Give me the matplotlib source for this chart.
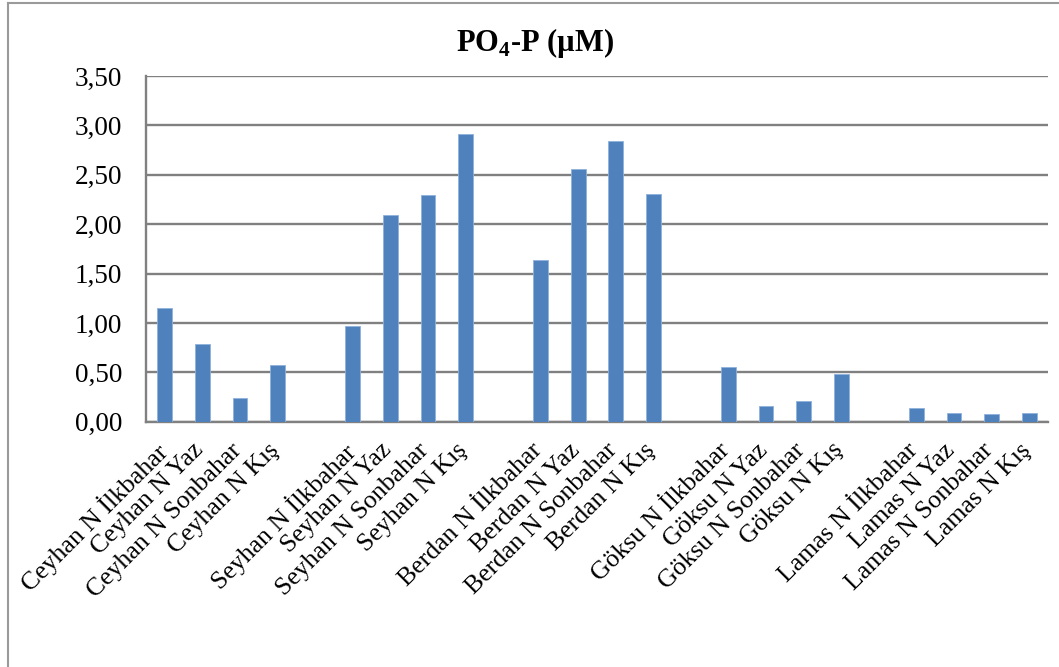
import matplotlib
matplotlib.use("Agg")
import matplotlib.pyplot as plt
import matplotlib.transforms as mtransforms
from matplotlib.lines import Line2D
from matplotlib.ticker import FuncFormatter, MultipleLocator

plt.rcParams['font.family'] = ['Liberation Serif', 'DejaVu Serif']
plt.rcParams['mathtext.fontset'] = 'custom'
plt.rcParams['mathtext.rm'] = 'Liberation Serif:bold'
plt.rcParams['mathtext.bf'] = 'Liberation Serif:bold'

# PO4-P per station and season
stations = ["Ceyhan", "Seyhan", "Berdan", "Göksu", "Lamas"]
seasons = ["İlkbahar", "Yaz", "Sonbahar", "Kış"]
ceyhan = [1.15, 0.79, 0.24, 0.57]
seyhan = [0.97, 2.09, 2.30, 2.91]
berdan = [1.64, 2.56, 2.84, 2.31]
goksu = [0.55, 0.16, 0.21, 0.48]
lamas = [0.14, 0.09, 0.08, 0.09]
station_values = [ceyhan, seyhan, berdan, goksu, lamas]

# one empty slot between stations
xs, heights, labels = [], [], []
for i, (st, vals) in enumerate(zip(stations, station_values)):
    for j, (se, v) in enumerate(zip(seasons, vals)):
        xs.append(i * 5 + j)
        heights.append(v)
        labels.append(f"{st} N {se}")

fig = plt.figure(figsize=(10.59, 6.67), dpi=100)
ax = fig.add_axes([0.1379, 0.3678, 0.8517, 0.5182])

ax.bar(xs, heights, width=0.39, color="#4F81BD", edgecolor="#8db1dc", linewidth=0.6, zorder=3)

ax.set_xlim(-0.5, 23.5)
ax.set_ylim(0, 3.5)
ax.yaxis.set_major_locator(MultipleLocator(0.5))
ax.yaxis.set_major_formatter(FuncFormatter(lambda v, p: f"{v:.2f}".replace(".", ",")))
ax.grid(axis="y", color="#808080", linewidth=1.7, zorder=0)

for s in ["top", "right"]:
    ax.spines[s].set_visible(False)
for s in ["left", "bottom"]:
    ax.spines[s].set_color("#808080")
    ax.spines[s].set_linewidth(1.7)

ax.tick_params(axis="y", length=0, pad=17, labelsize=19.5)
ax.tick_params(axis="x", length=0, pad=6, labelsize=18.5)
ax.set_xticks(xs)
ax.set_xticklabels(labels, rotation=45, ha="right", va="top", rotation_mode="anchor")
shift = mtransforms.ScaledTranslation(-10 / 100, -9 / 100, fig.dpi_scale_trans)
for lab in ax.get_xticklabels():
    lab.set_transform(lab.get_transform() + shift)

fig.text(0.505, 0.924, r"PO$_\mathrm{4}$-P (µM)", ha="center", va="baseline",
         fontsize=22, fontweight="bold")

# chart frame edges
fig.add_artist(Line2D([8 / 1059, 8 / 1059], [0, 1 - 3 / 667], color="#9a9a9a", lw=1.5))
fig.add_artist(Line2D([8 / 1059, 1], [1 - 3 / 667, 1 - 3 / 667], color="#9a9a9a", lw=1.5))

fig.savefig("out.png", dpi=100)
